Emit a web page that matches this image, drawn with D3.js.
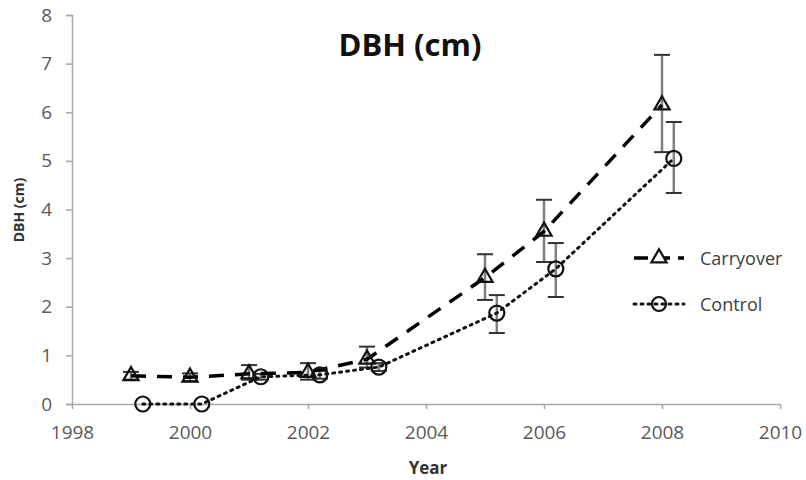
<!DOCTYPE html>
<html><head><meta charset="utf-8">
<script src="https://cdn.jsdelivr.net/npm/d3@7"></script>
<style>body{margin:0;background:#fff;} text{font-family:"Open Sans",sans-serif;}</style>
</head><body><svg id="c" width="806" height="480"></svg>
<script>
const carryYears = [1999, 2000, 2001, 2002, 2003, 2005, 2006, 2008];
const carryValues = [0.58, 0.55, 0.62, 0.65, 0.92, 2.6, 3.55, 6.15];
const carryLow  = [0.5, 0.47, 0.5, 0.5, 0.75, 2.14, 2.92, 5.18];
const carryHigh = [0.66, 0.63, 0.8, 0.84, 1.18, 3.08, 4.2, 7.18];
const ctrlYears = [1999.2, 2000.2, 2001.2, 2002.2, 2003.2, 2005.2, 2006.2, 2008.2];
const ctrlValues = [0, 0, 0.56, 0.6, 0.76, 1.87, 2.78, 5.05];
const ctrlLow  = [0, 0, 0.5, 0.52, 0.68, 1.46, 2.2, 4.34];
const ctrlHigh = [0, 0, 0.62, 0.68, 0.84, 2.24, 3.31, 5.8];
const xTicks = [1998, 2000, 2002, 2004, 2006, 2008, 2010];
const yTicks = [0, 1, 2, 3, 4, 5, 6, 7, 8];
const seriesNames = ["Carryover", "Control"];

const svg = d3.select("#c");
const x = d3.scaleLinear().domain([1998, 2010]).range([72, 780]);
const y = d3.scaleLinear().domain([0, 8]).range([404, 15]);
const axisColor = "#a6a6a6", labelColor = "#595959";

// y axis
const ya = svg.append("g").attr("transform", "translate(72,0)")
  .call(d3.axisLeft(y).tickValues(yTicks).tickSize(6).tickPadding(14).tickFormat(d3.format("d")));
ya.select(".domain").attr("stroke", axisColor).attr("stroke-width", 1.5);
ya.selectAll(".tick line").attr("stroke", axisColor).attr("stroke-width", 1.5);
ya.selectAll(".tick text").attr("fill", labelColor).style("font-size", "19px").style("font-family", "'Open Sans'");

// x axis
const xa = svg.append("g").attr("transform", "translate(0,404)")
  .call(d3.axisBottom(x).tickValues(xTicks).tickSize(5).tickSizeOuter(0).tickPadding(17).tickFormat(d3.format("d")));
xa.select(".domain").attr("stroke", axisColor).attr("stroke-width", 1.5);
xa.selectAll(".tick line").attr("stroke", axisColor).attr("stroke-width", 1.5);
xa.selectAll(".tick text").attr("fill", labelColor).style("font-size", "19px").style("font-family", "'Open Sans'");

// titles
svg.append("text").attr("x", 410).attr("y", 56).attr("text-anchor", "middle")
  .style("font-size", "31px").style("font-weight", "bold").attr("fill", "#111").text("DBH (cm)");
svg.append("text").attr("x", 428).attr("y", 474).attr("text-anchor", "middle")
  .style("font-size", "17px").style("font-weight", "bold").attr("fill", "#333").text("Year");
svg.append("text").attr("transform", "translate(24,210) rotate(-90)").attr("text-anchor", "middle")
  .style("font-size", "14px").style("font-weight", "bold").attr("fill", "#333").text("DBH (cm)");

const carry = carryYears.map((t, i) => ({t, v: carryValues[i], lo: carryLow[i], hi: carryHigh[i]}));
const ctrl = ctrlYears.map((t, i) => ({t, v: ctrlValues[i], lo: ctrlLow[i], hi: ctrlHigh[i]}));

function errorBars(data) {
  const g = svg.append("g");
  data.filter(d => d.hi > d.lo).forEach(d => {
    g.append("line").attr("x1", x(d.t)).attr("x2", x(d.t)).attr("y1", y(d.lo)).attr("y2", y(d.hi))
      .attr("stroke", "#7f7f7f").attr("stroke-width", 2.5);
    [d.lo, d.hi].forEach(v => g.append("line").attr("x1", x(d.t) - 8).attr("x2", x(d.t) + 8)
      .attr("y1", y(v)).attr("y2", y(v)).attr("stroke", "#333").attr("stroke-width", 2));
  });
}

const line = d3.line().x(d => x(d.t)).y(d => y(d.v));

errorBars(carry);
errorBars(ctrl);

svg.append("path").datum(carry).attr("d", line).attr("fill", "none")
  .attr("stroke", "#000").attr("stroke-width", 3.5).attr("stroke-dasharray", "15,11");
svg.append("path").datum(ctrl).attr("d", line).attr("fill", "none")
  .attr("stroke", "#111").attr("stroke-width", 3).attr("stroke-dasharray", "2,5").attr("stroke-linecap", "round");

const tri = d3.symbol().type(d3.symbolTriangle).size(100);
svg.append("g").selectAll("path").data(carry).join("path")
  .attr("d", tri).attr("transform", d => `translate(${x(d.t)},${y(d.v)})`)
  .attr("fill", "none").attr("stroke", "#111").attr("stroke-width", 2.2);
svg.append("g").selectAll("circle").data(ctrl).join("circle")
  .attr("cx", d => x(d.t)).attr("cy", d => y(d.v)).attr("r", 7.5)
  .attr("fill", "none").attr("stroke", "#111").attr("stroke-width", 2.2);

// legend
const lg = svg.append("g");
const ly = [258, 304];
lg.append("line").attr("x1", 634).attr("x2", 684).attr("y1", ly[0]).attr("y2", ly[0])
  .attr("stroke", "#000").attr("stroke-width", 3.5).attr("stroke-dasharray", "14,8");
lg.append("path").attr("d", tri).attr("transform", `translate(659,${ly[0]})`)
  .attr("fill", "#fff").attr("stroke", "#111").attr("stroke-width", 2.2);
lg.append("line").attr("x1", 634).attr("x2", 684).attr("y1", ly[1]).attr("y2", ly[1])
  .attr("stroke", "#111").attr("stroke-width", 3).attr("stroke-dasharray", "2,5").attr("stroke-linecap", "round");
lg.append("circle").attr("cx", 659).attr("cy", ly[1]).attr("r", 7)
  .attr("fill", "none").attr("stroke", "#111").attr("stroke-width", 2.2);
seriesNames.forEach((n, i) => lg.append("text").attr("x", 700).attr("y", ly[i] + 7)
  .style("font-size", "18px").attr("fill", "#404040").text(n));
</script></body></html>
